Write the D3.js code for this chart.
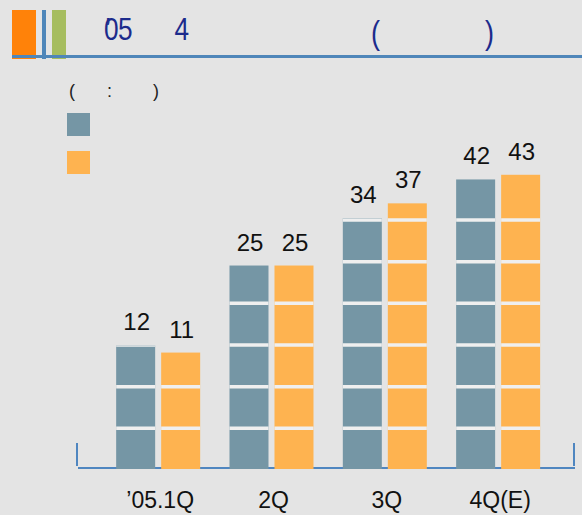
<!DOCTYPE html>
<html><head><meta charset="utf-8">
<script src="https://cdn.jsdelivr.net/npm/d3@7"></script>
<style>html,body{margin:0;padding:0;background:#e4e4e4}svg{display:block}</style>
</head><body><script>
// ---- data ----
const categories = ["\u201905.1Q", "2Q", "3Q", "4Q(E)"];
const seriesKeys = ["s1", "s2"];
const series1 = [12, 25, 34, 42];
const series2 = [11, 25, 37, 43];
const gridLevels = [1, 2, 3, 4, 5, 6];

const W = 582, H = 515;
const colors = { s1: "#7596a5", s2: "#feb350" };
const bg = "#e4e4e4";

const svg = d3.select("body").append("svg").attr("width", W).attr("height", H);
svg.append("rect").attr("width", W).attr("height", H).attr("fill", bg);

// ---- header ----
const hdr = svg.append("g");
hdr.append("rect").attr("x", 12).attr("y", 10).attr("width", 24).attr("height", 49).attr("fill", "#ff8209");
hdr.append("rect").attr("x", 52).attr("y", 10).attr("width", 14).attr("height", 49).attr("fill", "#a6bd5f");
hdr.append("rect").attr("x", 12).attr("y", 55).attr("width", 570).attr("height", 3).attr("fill", "#4f86b9");
hdr.append("rect").attr("x", 42).attr("y", 10).attr("width", 4).attr("height", 49).attr("fill", "#4f86b9");

const titleColor = "#1c2b8c";
const sx = 0.82;
function condensed(x, y, size, txt, dx) {
  const t = hdr.append("text").attr("transform", `translate(${x},${y}) scale(${sx},1)`)
    .attr("font-family", "Liberation Sans, Arial, sans-serif").attr("font-size", size)
    .attr("fill", titleColor).text(txt);
  if (dx) t.attr("dx", dx);
  return t;
}
condensed(104, 39.5, 32, "\u201905", "0 -8.5 -0.8");
condensed(174.5, 39.5, 32, "4");
condensed(371, 44, 33, "(");
condensed(485, 44, 33, ")");

// ---- legend ----
const lg = svg.append("g").attr("font-family", "Liberation Sans, Arial, sans-serif").attr("font-size", 18).attr("fill", "#222");
lg.append("text").attr("x", 69).attr("y", 97).text("(");
lg.append("text").attr("x", 107).attr("y", 97).text(":");
lg.append("text").attr("x", 153).attr("y", 97).text(")");
seriesKeys.forEach((k, i) => {
  lg.append("rect").attr("x", 67).attr("y", 113 + i * 38).attr("width", 23).attr("height", 23).attr("fill", colors[k]);
});

// ---- scales ----
const baseY = 469;
const y = d3.scalePow().exponent(0.68).domain([0, 50]).range([baseY, 143]);
const x0 = d3.scaleBand().domain(categories).range([101.5, 554.8]).padding(0);
const x1 = d3.scaleBand().domain(seriesKeys).range([0, 84]).paddingInner(2 - 84 / 45).paddingOuter(0);
const grid = d3.scaleLinear().domain([0, 6]).range([470, 220]);

const rows = [];
categories.forEach((c, i) => {
  rows.push({ cat: c, key: "s1", v: series1[i] });
  rows.push({ cat: c, key: "s2", v: series2[i] });
});
const barX = d => x0(d.cat) + x0.bandwidth() / 2 - 42 + x1(d.key);

// ---- axis ----
const axisColor = "#4f86c0";
svg.append("rect").attr("x", 78).attr("y", 467).attr("width", 497).attr("height", 2).attr("fill", axisColor);
svg.append("rect").attr("x", 76).attr("y", 443).attr("width", 2).attr("height", 23).attr("fill", axisColor);
svg.append("rect").attr("x", 573).attr("y", 443).attr("width", 2).attr("height", 23).attr("fill", axisColor);

// ---- bars ----
svg.append("defs").append("clipPath").attr("id", "barclip")
  .selectAll("rect").data(rows).join("rect")
  .attr("x", barX).attr("y", d => y(d.v)).attr("width", x1.bandwidth()).attr("height", d => y(0) - y(d.v));

svg.append("g").selectAll("rect").data(rows).join("rect")
  .attr("x", barX).attr("y", d => y(d.v)).attr("width", x1.bandwidth()).attr("height", d => y(0) - y(d.v))
  .attr("fill", d => colors[d.key]);

svg.append("g").attr("clip-path", "url(#barclip)").selectAll("line").data(gridLevels).join("line")
  .attr("x1", 90).attr("x2", 570).attr("y1", d => grid(d)).attr("y2", d => grid(d))
  .attr("stroke", "#efefef").attr("stroke-width", 3.5);

// ---- value labels ----
svg.append("g").attr("font-family", "Liberation Sans, Arial, sans-serif").attr("font-size", 24).attr("fill", "#111")
  .attr("text-anchor", "middle")
  .selectAll("text").data(rows).join("text")
  .attr("x", d => barX(d) + x1.bandwidth() / 2 + 1).attr("y", d => y(d.v) - 15).text(d => d.v);

// ---- category labels ----
svg.append("g").attr("font-family", "Liberation Sans, Arial, sans-serif").attr("font-size", 23).attr("fill", "#111")
  .attr("text-anchor", "middle")
  .selectAll("text").data(categories).join("text")
  .attr("x", d => x0(d) + x0.bandwidth() / 2 + 2).attr("y", 508).text(d => d);
</script></body></html>
